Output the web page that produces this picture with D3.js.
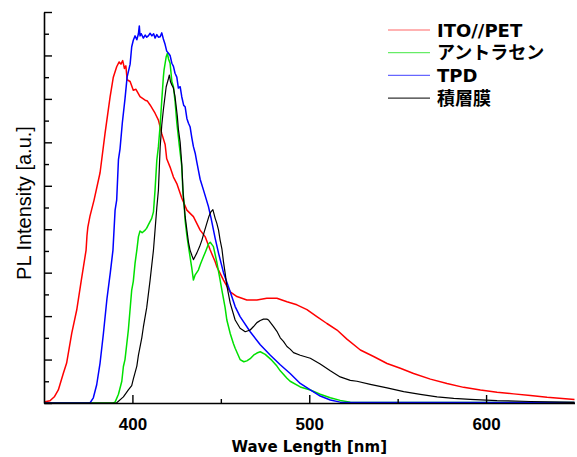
<!DOCTYPE html>
<html>
<head>
<meta charset="utf-8">
<script src="https://cdn.jsdelivr.net/npm/d3@7"></script>
<style>
  body { margin: 0; background: #fff; }
  svg { display: block; }
</style>
</head>
<body>
<div id="chart"></div>
<script>
// PL spectra, [wavelength nm, intensity a.u.]
const itoPet = [
  [350,0],[350.6,0.03],[353.4,0.05],[356,0.15],[358.1,0.3],[360.9,0.68],[362.8,0.92],
  [365.7,1.61],[368.5,2.14],[371,2.8],[373.8,3.52],[374.3,3.85],[374.8,4.05],[376,4.3],
  [378.3,4.67],[381.7,5.3],[384.5,6.2],[387.4,7.05],[389.2,7.5],[391.1,7.74],[392.5,7.85],
  [393.5,7.8],[394.5,7.88],[395.5,7.7],[396.3,7.76],[397,7.44],[398.7,7.4],[400.5,7.2],
  [402,7.22],[404.3,7.05],[407.2,6.97],[408.5,6.95],[410,6.86],[412.8,6.67],[414.7,6.51],
  [416.6,6.2],[418.5,5.95],[419.4,5.62],[421.3,5.43],[423.2,5.2],[425.1,5.05],[427.9,4.72],
  [430.8,4.44],[434.5,4.29],[438.3,3.98],[441.1,3.83],[444,3.52],[446.8,3.25],[447.7,3.14],
  [451.5,2.83],[455.3,2.56],[459.1,2.45],[464.7,2.37],[470.4,2.37],[476,2.41],[481.7,2.41],
  [487.4,2.33],[493,2.26],[498.7,2.15],[504.3,1.99],[510,1.83],[515.7,1.68],[521.3,1.47],
  [528.9,1.22],[536.4,1.07],[544,0.91],[551.5,0.8],[559,0.68],[568.5,0.55],[577.9,0.45],
  [587.3,0.36],[596.8,0.3],[606.2,0.25],[615.6,0.21],[625.1,0.17],[634.5,0.13],[650,0.08]
];
const anthracene = [
  [350,0],[389,0],[390.2,0.02],[392.1,0.2],[394,0.5],[394.9,0.84],[395.8,1.0],[397.7,1.68],
  [399.6,2.6],[400.5,2.8],[401.5,3.22],[402.5,3.52],[403.4,3.83],[404.3,3.96],[405.5,3.92],
  [407.2,3.98],[408,4.02],[409,4.1],[410.9,4.25],[411.9,4.4],[412.8,4.9],[413.8,5.59],
  [414.7,5.9],[415.7,6.4],[416.6,6.97],[417.5,7.5],[417.9,7.67],[419.1,7.97],[419.8,8.05],
  [420.4,7.92],[421.3,7.82],[422.3,7.4],[423.2,7.28],[424.1,6.95],[425.1,6.45],[426.6,5.9],
  [427.9,5.45],[428.5,4.9],[429.2,4.6],[429.8,4.2],[430.8,3.85],[431.7,3.6],[433.6,3.1],
  [434.5,2.83],[435.5,2.95],[437.3,3.06],[438.5,3.2],[440.2,3.37],[441.5,3.5],[443,3.66],
  [444,3.7],[444.9,3.65],[445.8,3.6],[447.7,3.25],[449.6,2.83],[450.6,2.6],[452.4,2.2],
  [453.4,1.91],[455.3,1.6],[457.1,1.37],[458.1,1.26],[460.9,1.0],[463,0.95],[464.7,0.97],
  [466.6,1.02],[468.5,1.1],[470.4,1.15],[472.3,1.18],[475.1,1.12],[478.9,0.98],[481.7,0.85],
  [483.6,0.74],[487.4,0.57],[489.2,0.5],[494.9,0.37],[500.6,0.3],[506.2,0.2],[511.9,0.12],
  [517.5,0.06],[523.2,0.02],[530,0.01],[650,0.01]
];
const tpd = [
  [350,0],[376,0],[377.9,0.12],[379.8,0.42],[381.7,0.92],[383.6,1.6],[385.6,2.4],[387.5,3.0],
  [389,3.52],[390.2,4.44],[391.1,4.67],[392.1,5.6],[393,5.85],[394.3,6.45],[395.8,7.0],
  [397,7.5],[398.7,7.8],[399.6,8.2],[400.5,8.35],[401.5,8.45],[402.5,8.36],[403.4,8.5],
  [403.9,8.68],[404.3,8.45],[405,8.5],[406.2,8.4],[407.2,8.47],[408.1,8.42],[409,8.45],
  [410,8.51],[411,8.45],[412,8.5],[412.8,8.4],[413.8,8.48],[414.7,8.42],[415.7,8.43],
  [416.6,8.52],[417.5,8.38],[418.5,8.25],[419.4,8.1],[420.4,8.05],[421.3,8.0],[422.3,7.82],
  [423.2,7.75],[424.1,7.59],[425.1,7.5],[426,7.25],[427,7.28],[427.9,7.05],[429,6.85],
  [429.8,6.82],[430.8,6.55],[431.7,6.44],[432.6,6.36],[433.6,6.1],[434.5,5.9],[435.5,5.75],
  [436.4,5.55],[437.3,5.36],[438.3,5.15],[440.2,4.9],[443,4.52],[444.5,4.25],[446.8,3.79],
  [448.7,3.45],[451.5,3.0],[455.3,2.56],[458.1,2.22],[460.9,1.99],[466.6,1.64],[472.3,1.34],
  [478,1.1],[483.6,0.88],[489.2,0.68],[494.9,0.45],[500.6,0.3],[506.2,0.16],[511.9,0.07],
  [517.5,0.02],[525,0.01],[650,0.01]
];
const laminate = [
  [350,0],[391,0],[394.9,0.14],[397.7,0.3],[399.6,0.4],[400.5,0.55],[402.5,0.85],[403.4,1.1],
  [405.3,1.5],[406.2,1.75],[408.1,2.2],[410,2.83],[411.9,3.52],[412.8,3.98],[413.8,4.5],
  [414.7,4.9],[415.7,5.9],[416.6,6.4],[417.5,6.75],[419.1,7.28],[420.4,7.47],[420.9,7.55],
  [421.5,7.4],[422.3,7.32],[423.2,7.25],[424.1,7.05],[425.4,6.6],[426,6.3],[427,6.0],
  [427.9,5.5],[428.8,4.75],[429.8,4.3],[430.8,3.98],[431.7,3.7],[432.6,3.52],[433.6,3.4],
  [434.5,3.3],[435.5,3.38],[436.4,3.45],[438,3.6],[439.3,3.75],[440.7,3.95],[442.1,4.14],
  [443.3,4.3],[444.4,4.4],[445.5,4.45],[446.8,4.25],[447.7,4.14],[448.7,3.98],[449.6,3.75],
  [450.6,3.55],[451.5,3.25],[452.4,3.0],[453.4,2.7],[455.3,2.3],[458.1,1.91],[460.9,1.72],
  [463.8,1.64],[466.6,1.68],[468.5,1.76],[470.4,1.85],[472.3,1.9],[474.1,1.93],[476,1.93],
  [477,1.91],[479.8,1.76],[481.7,1.65],[483.6,1.5],[485.4,1.42],[487.4,1.3],[489.2,1.24],
  [491.1,1.16],[494.9,1.1],[500.6,1.03],[506.2,0.9],[511.9,0.74],[517.5,0.6],[523.2,0.52],
  [527,0.5],[534.5,0.43],[544,0.35],[553.4,0.26],[562.8,0.2],[572.3,0.14],[581.7,0.105],
  [591,0.085],[606.2,0.055],[625.1,0.035],[650,0.016]
];

const seriesNames = ["ITO//PET", "アントラセン", "TPD", "積層膜"];
const seriesColors = ["#ff0000", "#00e000", "#0000ff", "#000000"];
const seriesData = [itoPet, anthracene, tpd, laminate];

const xMajorTicks = [400, 500, 600];
const xMinorTicks = [450, 550];
const yMajorTicks = d3.range(0, 10, 1);
const yMinorTicks = d3.range(0.5, 9, 1);

const width = 577, height = 457;
const plotLeft = 44, plotRight = 574.5, plotTop = 12, plotBottom = 403;

const svg = d3.select("#chart").append("svg")
    .attr("width", width)
    .attr("height", height);

const x = d3.scaleLinear().domain([350, 650]).range([plotLeft, plotRight]);
const y = d3.scaleLinear().domain([0, 9]).range([plotBottom, plotTop]);

svg.append("clipPath").attr("id", "plot")
  .append("rect")
    .attr("x", plotLeft).attr("y", plotTop - 5)
    .attr("width", plotRight - plotLeft + 3).attr("height", plotBottom - plotTop + 5);

const line = d3.line()
    .x(d => x(d[0]))
    .y(d => y(d[1]));

const curves = svg.append("g").attr("clip-path", "url(#plot)");
seriesData.forEach((data, i) => {
  curves.append("path")
      .datum(data)
      .attr("fill", "none")
      .attr("stroke", seriesColors[i])
      .attr("stroke-width", i === 3 ? 1.2 : 1.5)
      .attr("stroke-linejoin", "round")
      .attr("d", line);
});

// axes, ticks pointing inward
const xAxis = svg.append("g")
    .attr("transform", `translate(0,${plotBottom})`)
    .call(d3.axisBottom(x).tickValues(xMajorTicks).tickSize(-8).tickSizeOuter(0)
      .tickPadding(15).tickFormat(d3.format("d")));
svg.append("g")
    .attr("transform", `translate(0,${plotBottom})`)
    .call(d3.axisBottom(x).tickValues(xMinorTicks).tickSize(-4).tickSizeOuter(0).tickFormat(""))
    .select(".domain").remove();

xAxis.selectAll("text")
    .attr("fill", "#000")
    .style("font-family", "'Liberation Sans', Arial, sans-serif")
    .style("font-weight", "bold")
    .style("font-size", "17px");

svg.append("g")
    .attr("transform", `translate(${plotLeft},0)`)
    .call(d3.axisLeft(y).tickValues(yMajorTicks).tickSize(-8).tickSizeOuter(0).tickFormat(""));
svg.append("g")
    .attr("transform", `translate(${plotLeft},0)`)
    .call(d3.axisLeft(y).tickValues(yMinorTicks).tickSize(-5).tickSizeOuter(0).tickFormat(""))
    .select(".domain").remove();

svg.selectAll(".domain").attr("stroke", "#000").attr("stroke-width", 1.6);
svg.selectAll(".tick line").attr("stroke", "#000").attr("stroke-width", 1.4);

// axis titles
svg.append("text")
    .attr("x", (plotLeft + plotRight) / 2)
    .attr("y", 452)
    .attr("text-anchor", "middle")
    .style("font-family", "'DejaVu Sans', sans-serif")
    .style("font-weight", "bold")
    .style("font-size", "15px")
    .text("Wave Length [nm]");

svg.append("text")
    .attr("transform", "translate(31,203) rotate(-90)")
    .attr("text-anchor", "middle")
    .style("font-family", "'Liberation Sans', Arial, sans-serif")
    .style("font-size", "20px")
    .text("PL Intensity [a.u.]");

// legend
const legend = svg.append("g");
seriesNames.forEach((name, i) => {
  const ly = 30 + i * 22.7;
  legend.append("line")
      .attr("x1", 388).attr("x2", 430)
      .attr("y1", ly).attr("y2", ly)
      .attr("stroke", seriesColors[i])
      .attr("stroke-opacity", i === 3 ? 0.8 : 0.6)
      .attr("stroke-width", 1.2);
  legend.append("text")
      .attr("x", 437)
      .attr("y", ly + 6.5)
      .style("font-family", "'DejaVu Sans', 'Noto Sans CJK JP', sans-serif")
      .style("font-weight", "bold")
      .style("font-size", "18px")
      .text(name);
});
</script>
</body>
</html>
